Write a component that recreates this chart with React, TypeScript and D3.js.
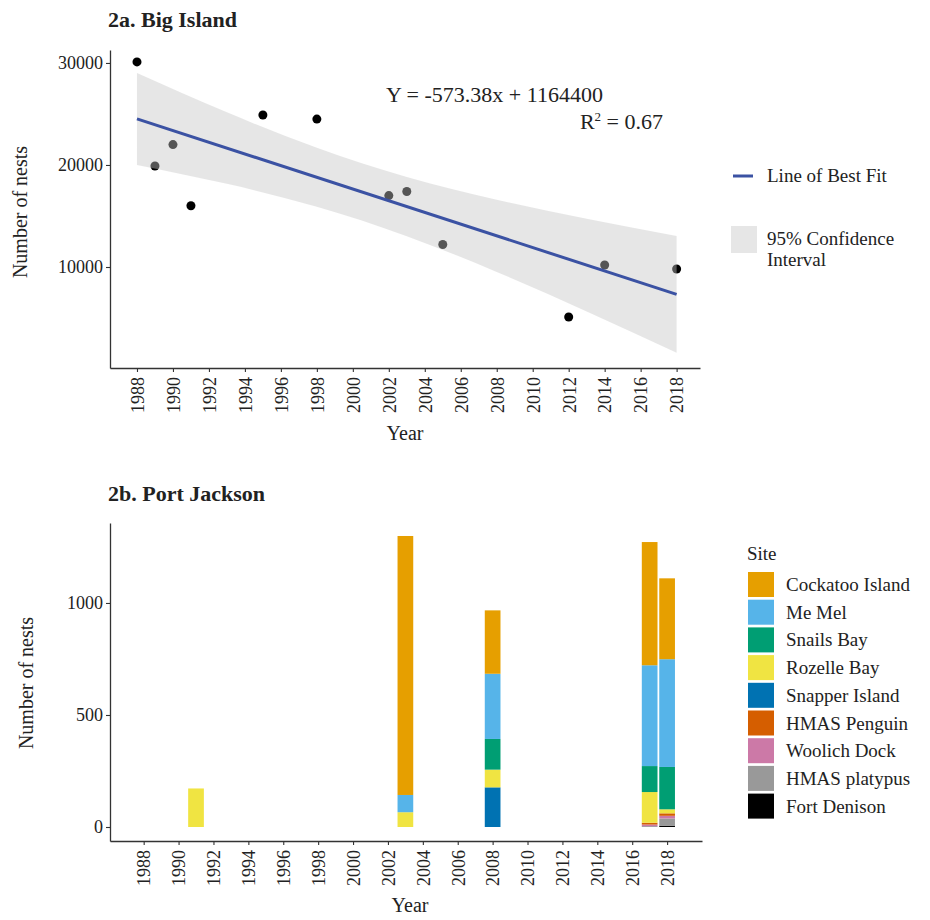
import { useEffect, useRef } from 'react';
import * as d3 from 'd3';

// 2a. Big Island - counts
const bigIslandYears = [1988, 1989, 1990, 1991, 1995, 1998, 2002, 2003, 2005, 2012, 2014, 2018];
const bigIslandNests = [30100, 19900, 22000, 16000, 24900, 24500, 17000, 17400, 12200, 5100, 10200, 9800];

// fitted line, from the printed equation
const fitSlope = -573.38;
const fitIntercept = 1164400;
const fitYears = [1988, 2018];

// 95% confidence band read at a few years
const ciYears = [1988, 1993, 1998, 2003, 2008, 2013, 2018];
const ciLower = [20000, 18150, 15900, 13020, 9520, 5650, 1600];
const ciUpper = [29020, 25160, 21680, 18820, 16590, 14720, 13040];

const topYTicks = [10000, 20000, 30000];
const yearTicks = [1988, 1990, 1992, 1994, 1996, 1998, 2000, 2002, 2004, 2006, 2008, 2010, 2012, 2014, 2016, 2018];

// 2b. Port Jackson - stacked by site
const sites = [
  'Cockatoo Island',
  'Me Mel',
  'Snails Bay',
  'Rozelle Bay',
  'Snapper Island',
  'HMAS Penguin',
  'Woolich Dock',
  'HMAS platypus',
  'Fort Denison'
];
const siteColors = ['#E69F00', '#56B4E9', '#009E73', '#F0E442', '#0072B2', '#D55E00', '#CC79A7', '#999999', '#000000'];

const pjYears = [1991, 2003, 2008, 2017, 2018];
const cockatooIsland = [0, 1156, 283, 550, 361];
const meMel = [0, 77, 291, 450, 481];
const snailsBay = [0, 0, 137, 116, 189];
const rozelleBay = [172, 66, 79, 137, 18];
const snapperIsland = [0, 0, 177, 0, 0];
const hmasPenguin = [0, 0, 0, 8, 11];
const woolichDock = [0, 0, 0, 7, 12];
const hmasPlatypus = [0, 0, 0, 4, 32];
const fortDenison = [0, 0, 0, 0, 6];
const bottomYTicks = [0, 500, 1000];

const FONT = '"Liberation Serif", "Times New Roman", serif';
const AXIS_COLOR = '#333';

export default function App() {
  const svgRef = useRef<SVGSVGElement>(null);

  useEffect(() => {
    const svgEl = d3.select(svgRef.current);
    svgEl.selectAll('*').remove();
    svgEl.style('font-family', FONT);

    drawBigIsland(svgEl);
    drawPortJackson(svgEl);
  }, []);

  const styleAxis = (g: d3.Selection<SVGGElement, unknown, null, undefined>) => {
    g.select('.domain').attr('stroke', AXIS_COLOR).attr('stroke-width', 1.3);
    g.selectAll('.tick line').attr('stroke', AXIS_COLOR).attr('stroke-width', 1.1);
    g.selectAll('.tick text').attr('fill', '#222').style('font-size', '18px').style('font-family', FONT);
  };

  const rotateXLabels = (g: d3.Selection<SVGGElement, unknown, null, undefined>) => {
    g.selectAll('.tick text')
      .attr('transform', 'rotate(-90)')
      .attr('text-anchor', 'end')
      .attr('x', -9)
      .attr('y', 0)
      .attr('dy', '0.35em');
  };

  const drawBigIsland = (svgEl: d3.Selection<SVGSVGElement | null, unknown, null, undefined>) => {
    const xScale = d3.scaleLinear().domain([1986.5, 2019.3]).range([110, 700]);
    const yScale = d3.scaleLinear().domain([100, 31270]).range([368, 50]);

    svgEl
      .append('text')
      .attr('x', 108)
      .attr('y', 27)
      .attr('font-weight', 'bold')
      .attr('font-size', 22)
      .attr('fill', '#222')
      .text('2a. Big Island');

    // points first, the band lies over them
    svgEl
      .append('g')
      .selectAll('circle')
      .data(bigIslandYears)
      .enter()
      .append('circle')
      .attr('cx', (d) => xScale(d))
      .attr('cy', (_, i) => yScale(bigIslandNests[i]))
      .attr('r', 4.5)
      .attr('fill', '#000');

    const band = d3
      .area<number>()
      .x((d) => xScale(d))
      .y0((_, i) => yScale(ciLower[i]))
      .y1((_, i) => yScale(ciUpper[i]))
      .curve(d3.curveNatural);

    svgEl
      .append('path')
      .datum(ciYears)
      .attr('d', band)
      .attr('fill', '#c6c6c6')
      .attr('fill-opacity', 0.43);

    const line = d3
      .line<number>()
      .x((d) => xScale(d))
      .y((d) => yScale(fitSlope * d + fitIntercept));

    svgEl
      .append('path')
      .datum(fitYears)
      .attr('d', line)
      .attr('fill', 'none')
      .attr('stroke', '#3b52a3')
      .attr('stroke-width', 3);

    svgEl
      .append('g')
      .attr('transform', 'translate(110,0)')
      .call(
        d3
          .axisLeft(yScale)
          .tickValues(topYTicks)
          .tickFormat(d3.format('d'))
          .tickSize(4)
          .tickSizeOuter(0)
          .tickPadding(3)
      )
      .call(styleAxis);

    svgEl
      .append('g')
      .attr('transform', 'translate(0,368)')
      .call(
        d3.axisBottom(xScale).tickValues(yearTicks).tickFormat(d3.format('d')).tickSize(4).tickSizeOuter(0)
      )
      .call(styleAxis)
      .call(rotateXLabels);

    svgEl
      .append('text')
      .attr('x', 405)
      .attr('y', 440)
      .attr('text-anchor', 'middle')
      .attr('font-size', 20)
      .attr('fill', '#222')
      .text('Year');

    svgEl
      .append('text')
      .attr('transform', 'translate(27,212) rotate(-90)')
      .attr('text-anchor', 'middle')
      .attr('font-size', 20)
      .attr('fill', '#222')
      .text('Number of nests');

    svgEl
      .append('text')
      .attr('x', 386)
      .attr('y', 102)
      .attr('font-size', 22)
      .attr('fill', '#222')
      .text('Y = -573.38x + 1164400');

    const r2 = svgEl
      .append('text')
      .attr('x', 663)
      .attr('y', 129)
      .attr('text-anchor', 'end')
      .attr('font-size', 22)
      .attr('fill', '#222');
    r2.append('tspan').text('R');
    r2.append('tspan').attr('font-size', 13).attr('dy', -8).text('2');
    r2.append('tspan').attr('dy', 8).text(' = 0.67');

    // legend
    svgEl
      .append('line')
      .attr('x1', 733)
      .attr('x2', 753)
      .attr('y1', 176)
      .attr('y2', 176)
      .attr('stroke', '#3b52a3')
      .attr('stroke-width', 3);
    svgEl
      .append('text')
      .attr('x', 767)
      .attr('y', 182)
      .attr('font-size', 19)
      .attr('fill', '#222')
      .text('Line of Best Fit');

    svgEl.append('rect').attr('x', 731).attr('y', 226).attr('width', 26).attr('height', 27).attr('fill', '#e6e6e6');
    svgEl
      .append('text')
      .attr('x', 767)
      .attr('y', 245)
      .attr('font-size', 19)
      .attr('fill', '#222')
      .text('95% Confidence');
    svgEl
      .append('text')
      .attr('x', 767)
      .attr('y', 266)
      .attr('font-size', 19)
      .attr('fill', '#222')
      .text('Interval');
  };

  const drawPortJackson = (svgEl: d3.Selection<SVGSVGElement | null, unknown, null, undefined>) => {
    const xScale = d3.scaleLinear().domain([1986.07, 2020.0]).range([110, 702]);
    const yScale = d3.scaleLinear().domain([-62.5, 1357]).range([841, 523]);
    const barWidth = xScale(1988.9) - xScale(1988);

    const siteValues = [
      cockatooIsland,
      meMel,
      snailsBay,
      rozelleBay,
      snapperIsland,
      hmasPenguin,
      woolichDock,
      hmasPlatypus,
      fortDenison
    ];
    const rows = pjYears.map((year, i) => {
      const row: Record<string, number> = { year };
      sites.forEach((site, s) => (row[site] = siteValues[s][i]));
      return row;
    });
    const colorScale = d3.scaleOrdinal<string, string>().domain(sites).range(siteColors);
    // first site on top of the stack
    const stacked = d3.stack<Record<string, number>>().keys([...sites].reverse())(rows);

    svgEl
      .append('text')
      .attr('x', 108)
      .attr('y', 501)
      .attr('font-weight', 'bold')
      .attr('font-size', 22)
      .attr('fill', '#222')
      .text('2b. Port Jackson');

    svgEl
      .append('g')
      .selectAll('g')
      .data(stacked)
      .enter()
      .append('g')
      .attr('fill', (d) => colorScale(d.key))
      .selectAll('rect')
      .data((d) => d.filter((p) => p[1] - p[0] > 0))
      .enter()
      .append('rect')
      .attr('x', (d) => xScale(d.data.year) - barWidth / 2)
      .attr('width', barWidth)
      .attr('y', (d) => yScale(d[1]))
      .attr('height', (d) => yScale(d[0]) - yScale(d[1]));

    svgEl
      .append('g')
      .attr('transform', 'translate(110,0)')
      .call(
        d3
          .axisLeft(yScale)
          .tickValues(bottomYTicks)
          .tickFormat(d3.format('d'))
          .tickSize(4)
          .tickSizeOuter(0)
          .tickPadding(3)
      )
      .call(styleAxis);

    svgEl
      .append('g')
      .attr('transform', 'translate(0,841)')
      .call(
        d3.axisBottom(xScale).tickValues(yearTicks).tickFormat(d3.format('d')).tickSize(4).tickSizeOuter(0)
      )
      .call(styleAxis)
      .call(rotateXLabels);

    svgEl
      .append('text')
      .attr('x', 410)
      .attr('y', 912)
      .attr('text-anchor', 'middle')
      .attr('font-size', 20)
      .attr('fill', '#222')
      .text('Year');

    svgEl
      .append('text')
      .attr('transform', 'translate(33,683) rotate(-90)')
      .attr('text-anchor', 'middle')
      .attr('font-size', 20)
      .attr('fill', '#222')
      .text('Number of nests');

    // legend
    svgEl
      .append('text')
      .attr('x', 747)
      .attr('y', 560)
      .attr('font-size', 19)
      .attr('fill', '#222')
      .text('Site');

    const legend = svgEl
      .append('g')
      .selectAll('g')
      .data(sites)
      .enter()
      .append('g')
      .attr('transform', (_, i) => `translate(748,${572 + i * 27.7})`);
    legend
      .append('rect')
      .attr('width', 26)
      .attr('height', 25)
      .attr('fill', (d) => colorScale(d));
    legend
      .append('text')
      .attr('x', 38)
      .attr('y', 19)
      .attr('font-size', 19)
      .attr('fill', '#222')
      .text((d) => d);
  };

  return (
    <svg
      ref={svgRef}
      width={930}
      height={920}
      style={{ position: 'absolute', left: 0, top: 0, background: '#fff' }}
    />
  );
}
